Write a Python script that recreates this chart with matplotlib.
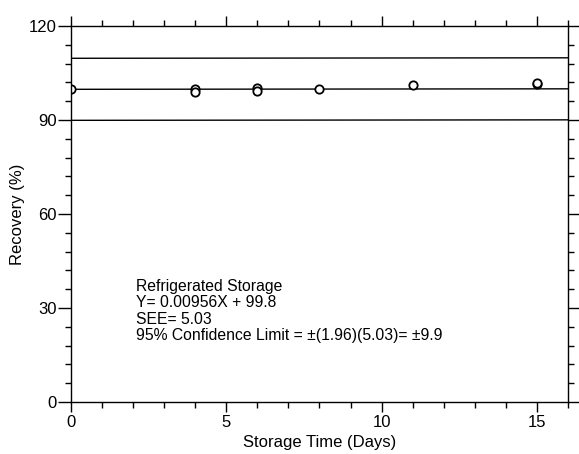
import numpy as np
import matplotlib
matplotlib.use("Agg")
import matplotlib.pyplot as plt
from matplotlib.ticker import MultipleLocator

plt.rcParams["font.family"] = ["Liberation Sans", "DejaVu Sans"]

# Datos
days = [0, 4, 4, 6, 6, 8, 11, 15, 15]
recovery = [100.0, 100.0, 99.0, 100.3, 99.4, 99.9, 101.1, 101.6, 101.9]

slope = 0.00956
intercept = 99.8
conf_limit = 9.9

note_lines = [
    "Refrigerated Storage",
    "Y= 0.00956X + 99.8",
    "SEE= 5.03",
    "95% Confidence Limit = \u00b1(1.96)(5.03)= \u00b19.9",
]

fig = plt.figure(figsize=(5.79, 4.54), dpi=100)
ax = fig.add_axes([0.1226, 0.1145, 0.8584, 0.8282])

x_fit = np.array([0, 16])
y_fit = slope * x_fit + intercept
ax.plot(x_fit, y_fit, color="black", lw=1.0)
ax.plot(x_fit, y_fit + conf_limit, color="black", lw=1.0)
ax.plot(x_fit, y_fit - conf_limit, color="black", lw=1.0)

ax.plot(days, recovery, "o", mfc="white", mec="black", mew=1.3, ms=6)

ax.set_xlim(0, 16)
ax.set_ylim(0, 120)
ax.xaxis.set_major_locator(MultipleLocator(5))
ax.xaxis.set_minor_locator(MultipleLocator(1))
ax.yaxis.set_major_locator(MultipleLocator(30))
ax.yaxis.set_minor_locator(MultipleLocator(6))
ax.tick_params(which="both", direction="out", top=True, right=True,
               labelsize=12, width=1.0)
ax.tick_params(axis="x", which="major", length=7.5, pad=1.5)
ax.tick_params(axis="y", which="major", length=9.5, pad=0.5)
ax.tick_params(which="minor", length=4.5)
for s in ax.spines.values():
    s.set_linewidth(1.0)

ax.set_xlabel("Storage Time (Days)", fontsize=12, labelpad=4)
ax.set_ylabel("Recovery (%)", fontsize=12, labelpad=3)

for i, line in enumerate(note_lines):
    ax.text(2.1, 37.0 - i * 5.3, line, fontsize=11.3, va="center", ha="left")

fig.savefig("out.png", dpi=100)
